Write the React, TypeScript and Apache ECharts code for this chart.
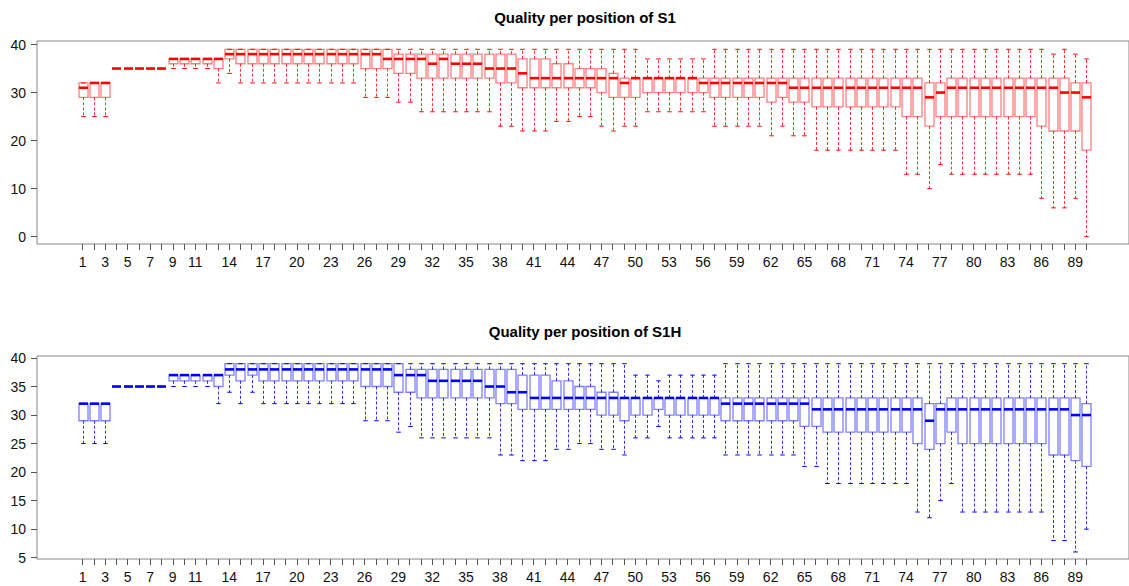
import React, { useEffect, useRef } from "react";
import * as echarts from "echarts";

// ---- Data ----
const titleTop = "Quality per position of S1";
const titleBottom = "Quality per position of S1H";

const xTickLabels = [1, 3, 5, 7, 9, 11, 14, 17, 20, 23, 26, 29, 32, 35, 38, 41, 44, 47, 50, 53, 56, 59, 62, 65, 68, 71, 74, 77, 80, 83, 86, 89];
const yTicksTop = [0, 10, 20, 30, 40];
const yTicksBottom = [5, 10, 15, 20, 25, 30, 35, 40];

// S1 (red)
const s1Low = [25,25,25,35,35,35,35,35,35,35, 35,35,32,34,32,32,32,32,32,32, 32,32,32,32,32,29,29,29,28,28, 26,26,26,26,26,26,26,23,23,22, 22,22,24,24,25,25,23,22,23,23, 26,26,26,26,26,26,23,23,23,23, 23,21,23,21,21,18,18,18,18,18, 18,18,18,13,13,10,15,13,13,13, 13,13,13,13,13,8,6,6,8,0];
const s1Q1 = [29,29,29,35,35,35,35,35,36,36, 36,36,35,37,36,36,36,36,36,36, 36,36,36,36,36,35,35,35,34,34, 33,33,33,33,33,33,33,32,32,31, 31,31,31,31,31,31,30,29,29,29, 30,30,30,30,30,30,29,29,29,29, 29,28,29,28,28,27,27,27,27,27, 27,27,27,25,25,23,25,25,25,25, 25,25,25,25,25,23,22,22,22,18];
const s1Med = [31,32,32,35,35,35,35,35,37,37, 37,37,37,38,38,38,38,38,38,38, 38,38,38,38,38,38,38,37,37,37, 37,36,37,36,36,36,35,35,35,34, 33,33,33,33,33,33,33,33,32,33, 33,33,33,33,33,32,32,32,32,32, 32,32,32,31,31,31,31,31,31,31, 31,31,31,31,31,29,30,31,31,31, 31,31,31,31,31,31,31,30,30,29];
const s1Q3 = [32,32,32,35,35,35,35,35,37,37, 37,37,37,39,39,39,39,39,39,39, 39,39,39,39,39,39,39,39,38,38, 38,38,38,38,38,38,38,38,38,37, 37,37,36,36,35,35,35,34,33,33, 33,33,33,33,33,33,33,33,33,33, 33,33,33,33,33,33,33,33,33,33, 33,33,33,33,33,32,32,33,33,33, 33,33,33,33,33,33,33,33,32,32];
const s1High = [32,32,32,35,35,35,35,35,37,37, 37,37,37,39,39,39,39,39,39,39, 39,39,39,39,39,39,39,39,39,39, 39,39,39,39,39,39,39,39,39,39, 39,39,39,39,39,39,39,39,39,39, 37,37,37,37,37,37,39,39,39,39, 39,39,39,39,39,39,39,39,39,39, 39,39,39,39,39,39,39,39,39,39, 39,39,39,39,39,39,38,39,38,37];

// S1H (blue)
const s1hLow = [25,25,25,35,35,35,35,35,35,35, 35,35,32,34,32,34,32,32,32,32, 32,32,32,32,32,29,29,29,27,28, 26,26,26,26,26,26,26,23,23,22, 22,22,24,24,25,25,24,24,23,26, 26,28,26,26,26,26,26,23,23,23, 23,23,23,23,21,21,18,18,18,18, 18,18,18,18,13,12,15,18,13,13, 13,13,13,13,13,13,8,8,6,10];
const s1hQ1 = [29,29,29,35,35,35,35,35,36,36, 36,36,35,37,36,37,36,36,36,36, 36,36,36,36,36,35,35,35,34,34, 33,33,33,33,33,33,33,32,32,31, 31,31,31,31,31,31,30,30,29,30, 30,31,30,30,30,30,30,29,29,29, 29,29,29,29,28,28,27,27,27,27, 27,27,27,27,25,24,25,27,25,25, 25,25,25,25,25,25,23,23,22,21];
const s1hMed = [32,32,32,35,35,35,35,35,37,37, 37,37,37,38,38,38,38,38,38,38, 38,38,38,38,38,38,38,38,37,37, 37,36,36,36,36,36,35,35,34,34, 33,33,33,33,33,33,33,33,33,33, 33,33,33,33,33,33,33,32,32,32, 32,32,32,32,32,31,31,31,31,31, 31,31,31,31,31,29,31,31,31,31, 31,31,31,31,31,31,31,31,30,30];
const s1hQ3 = [32,32,32,35,35,35,35,35,37,37, 37,37,37,39,39,39,39,39,39,39, 39,39,39,39,39,39,39,39,39,38, 38,38,38,38,38,38,38,38,38,37, 37,37,36,36,35,35,34,34,33,33, 33,33,33,33,33,33,33,33,33,33, 33,33,33,33,33,33,33,33,33,33, 33,33,33,33,33,32,32,33,33,33, 33,33,33,33,33,33,33,33,33,32];
const s1hHigh = [32,32,32,35,35,35,35,35,37,37, 37,37,37,39,39,39,39,39,39,39, 39,39,39,39,39,39,39,39,39,39, 39,39,39,39,39,39,39,39,39,39, 39,39,39,39,39,39,39,39,39,37, 37,36,37,37,37,37,37,39,39,39, 39,39,39,39,39,39,39,39,39,39, 39,39,39,39,39,39,39,39,39,39, 39,39,39,39,39,39,39,39,39,39];

const FONT = "'Liberation Sans', Arial, Helvetica, sans-serif";

function buildRows(low: number[], q1: number[], med: number[], q3: number[], high: number[]) {
  return low.map((v, i) => [i + 1, v, q1[i], med[i], q3[i], high[i]]);
}

function makeRender(color: string, boxColor: string, whiskerColor: string) {
  return (params: any, api: any) => {
    const x = api.value(0);
    const low = api.value(1);
    const q1 = api.value(2);
    const med = api.value(3);
    const q3 = api.value(4);
    const high = api.value(5);
    const w = api.size([0.8, 0])[0];
    const pLow = api.coord([x, low]);
    const pQ1 = api.coord([x, q1]);
    const pMed = api.coord([x, med]);
    const pQ3 = api.coord([x, q3]);
    const pHigh = api.coord([x, high]);
    const cx = Math.round(pMed[0]) + 0.5;
    const half = w / 2;
    const cap = w / 4;
    const children: any[] = [];
    children.push({
      type: "line",
      shape: { x1: cx, y1: pQ1[1], x2: cx, y2: pLow[1] },
      style: { stroke: whiskerColor, lineWidth: 1, lineDash: [3, 2] },
    });
    children.push({
      type: "line",
      shape: { x1: cx, y1: pQ3[1], x2: cx, y2: pHigh[1] },
      style: { stroke: whiskerColor, lineWidth: 1, lineDash: [3, 2] },
    });
    children.push({
      type: "line",
      shape: { x1: cx - cap, y1: pLow[1], x2: cx + cap, y2: pLow[1] },
      style: { stroke: color, lineWidth: 1 },
    });
    children.push({
      type: "line",
      shape: { x1: cx - cap, y1: pHigh[1], x2: cx + cap, y2: pHigh[1] },
      style: { stroke: color, lineWidth: 1 },
    });
    children.push({
      type: "rect",
      shape: { x: cx - half, y: pQ3[1], width: w, height: pQ1[1] - pQ3[1] },
      style: { fill: "none", stroke: boxColor, lineWidth: 1.3 },
    });
    children.push({
      type: "line",
      shape: { x1: cx - half, y1: pMed[1], x2: cx + half, y2: pMed[1] },
      style: { stroke: color, lineWidth: 2.6 },
    });
    return { type: "group", children };
  };
}

const xCommon = (gridIndex: number) => ({
  type: "value" as const,
  gridIndex,
  min: -3.035,
  max: 93.77,
  axisLine: { show: false, onZero: false },
  splitLine: { show: false },
  axisTick: {
    show: true,
    length: 6,
    customValues: s1Low.map((_, i) => i + 1),
    lineStyle: { color: "#555", width: 1 },
  },
  axisLabel: {
    show: true,
    customValues: xTickLabels,
    margin: 11,
    color: "#111",
    fontSize: 14,
    fontFamily: FONT,
  },
});

const yCommon = (gridIndex: number, min: number, max: number, ticks: number[]) => ({
  type: "value" as const,
  gridIndex,
  min,
  max,
  axisLine: { show: false, onZero: false },
  splitLine: { show: false },
  axisTick: { show: true, length: 6, customValues: ticks, lineStyle: { color: "#555", width: 1 } },
  axisLabel: { show: true, customValues: ticks, margin: 11, color: "#111", fontSize: 14, fontFamily: FONT },
});

export default function App() {
  const ref = useRef<HTMLDivElement>(null);
  useEffect(() => {
    if (!ref.current) return;
    const chart = echarts.init(ref.current, undefined, { renderer: "svg" });
    const option: any = {
      animation: false,
      backgroundColor: "#ffffff",
      grid: [
        { left: 37, top: 41, width: 1094, height: 203, show: true, borderColor: "#888", borderWidth: 1, backgroundColor: "transparent" },
        { left: 37, top: 356, width: 1094, height: 203, show: true, borderColor: "#888", borderWidth: 1, backgroundColor: "transparent" },
      ],
      xAxis: [xCommon(0), xCommon(1)],
      yAxis: [yCommon(0, -1.52, 40.73, yTicksTop), yCommon(1, 4.77, 40.35, yTicksBottom)],
      graphic: [
        { type: "text", x: 585, y: 17, style: { text: titleTop, fill: "#000", font: `bold 15px ${FONT}`, textAlign: "center", textVerticalAlign: "middle" } },
        { type: "text", x: 585, y: 331, style: { text: titleBottom, fill: "#000", font: `bold 15px ${FONT}`, textAlign: "center", textVerticalAlign: "middle" } },
      ],
      series: [
        {
          type: "custom",
          name: "S1",
          xAxisIndex: 0,
          yAxisIndex: 0,
          renderItem: makeRender("#ff0000", "rgba(255,0,0,0.5)", "rgba(255,0,0,0.8)"),
          encode: { x: 0, y: [1, 2, 3, 4, 5] },
          data: buildRows(s1Low, s1Q1, s1Med, s1Q3, s1High),
        },
        {
          type: "custom",
          name: "S1H",
          xAxisIndex: 1,
          yAxisIndex: 1,
          renderItem: makeRender("#0000ff", "rgba(0,0,255,0.5)", "rgba(0,0,255,0.8)"),
          encode: { x: 0, y: [1, 2, 3, 4, 5] },
          data: buildRows(s1hLow, s1hQ1, s1hMed, s1hQ3, s1hHigh),
        },
      ],
    };
    chart.setOption(option);
    return () => chart.dispose();
  }, []);
  return <div ref={ref} style={{ position: "fixed", left: 0, top: 0, width: 1129, height: 586, background: "#fff" }} />;
}
